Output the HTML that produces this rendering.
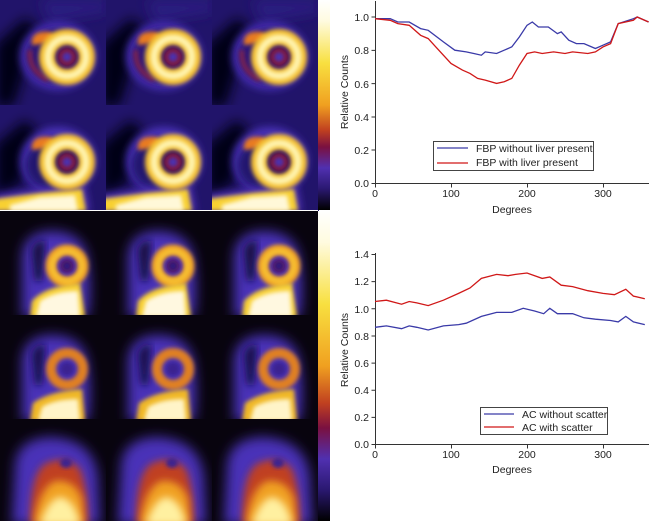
<!DOCTYPE html>
<html><head><meta charset="utf-8"><style>
html,body{margin:0;padding:0;background:#fff;width:650px;height:523px;overflow:hidden}
svg{position:absolute;left:0;top:0}
text{font-family:"Liberation Sans",sans-serif;font-size:10.5px;fill:#222}
</style></head><body>
<svg width="650" height="523" viewBox="0 0 650 523">
<defs>
<filter id="b4" x="-30%" y="-30%" width="160%" height="160%"><feGaussianBlur stdDeviation="4"/></filter>
<filter id="b2" x="-30%" y="-30%" width="160%" height="160%"><feGaussianBlur stdDeviation="2"/></filter>
<filter id="b6" x="-30%" y="-30%" width="160%" height="160%"><feGaussianBlur stdDeviation="6"/></filter>
<clipPath id="tc"><rect x="0" y="0" width="107" height="106"/></clipPath>
<linearGradient id="cb" x1="0" y1="0" x2="0" y2="1">
<stop offset="0" stop-color="#ffffff"/><stop offset="0.1" stop-color="#fffbe0"/>
<stop offset="0.3" stop-color="#f8e040"/><stop offset="0.5" stop-color="#f0a020"/>
<stop offset="0.62" stop-color="#c04020"/><stop offset="0.7" stop-color="#7a1040"/>
<stop offset="0.8" stop-color="#5030b0"/><stop offset="0.9" stop-color="#2a1870"/>
<stop offset="1" stop-color="#000000"/></linearGradient>
<symbol id="tA" viewBox="0 0 107 106" width="107" height="106"><g clip-path="url(#tc)">
<rect width="107" height="106" fill="#21146a"/>
<path d="M-5,45 L25,18 L38,28 L14,106 L-5,106Z" fill="#060414" filter="url(#b6)"/>
<path d="M40,0 L107,0 L107,12 L50,22Z" fill="#2a1a80" filter="url(#b6)"/>
<ellipse cx="58" cy="56" rx="38" ry="34" fill="#4a30b8" filter="url(#b4)"/>
<ellipse cx="58" cy="56" rx="32" ry="28" fill="#2a1878" filter="url(#b4)"/>
<path d="M32,45 Q30,30 50,32 L60,40 L40,44Z" fill="#e87a20" filter="url(#b2)"/>
<path d="M30,50 Q28,70 48,80" stroke="#7a2050" stroke-width="5" fill="none" filter="url(#b2)"/>
<circle cx="67" cy="57" r="20" fill="none" stroke="#f4c030" stroke-width="16" filter="url(#b2)"/>
<circle cx="67" cy="57" r="19" fill="none" stroke="#fff4b0" stroke-width="7" filter="url(#b2)"/>
<circle cx="67" cy="57" r="9" fill="#8a1830" filter="url(#b2)"/>
<circle cx="67" cy="57" r="5" fill="#4a30b0" filter="url(#b2)"/>
</g></symbol>
<symbol id="tB" viewBox="0 0 107 106" width="107" height="106"><g clip-path="url(#tc)">
<rect width="107" height="106" fill="#21146a"/>
<path d="M-5,40 L25,15 L38,28 L20,80 L-5,90Z" fill="#060414" filter="url(#b6)"/>
<ellipse cx="58" cy="56" rx="38" ry="34" fill="#4a30b8" filter="url(#b4)"/>
<ellipse cx="55" cy="60" rx="30" ry="26" fill="#24166e" filter="url(#b4)"/>
<path d="M32,45 Q30,30 50,32 L60,40 L40,44Z" fill="#e87a20" filter="url(#b2)"/>
<path d="M-5,90 L40,84 L85,80 L90,106 L-5,106Z" fill="#5030b8" filter="url(#b4)"/>
<path d="M-5,94 L40,88 L82,84 L86,106 L-5,106Z" fill="#f8d030" filter="url(#b2)"/>
<path d="M10,100 L40,92 L75,90 L78,106 L10,106Z" fill="#fff8d8" filter="url(#b2)"/>
<circle cx="67" cy="57" r="20" fill="none" stroke="#f4c030" stroke-width="16" filter="url(#b2)"/>
<circle cx="67" cy="57" r="19" fill="none" stroke="#fff4b0" stroke-width="7" filter="url(#b2)"/>
<circle cx="67" cy="57" r="9" fill="#8a1830" filter="url(#b2)"/>
<circle cx="67" cy="57" r="5" fill="#4a30b0" filter="url(#b2)"/>
</g></symbol>
<symbol id="tC" viewBox="0 0 107 106" width="107" height="106"><g clip-path="url(#tc)">
<rect width="107" height="106" fill="#08040e"/>
<path d="M22,48 Q22,22 50,20 Q85,20 88,50 Q92,80 88,106 L22,106Z" fill="#4a30b8" filter="url(#b6)"/>
<path d="M32,40 Q35,28 45,30 L42,70 L35,70Z" fill="#150c40" filter="url(#b4)"/>
<circle cx="67" cy="55" r="16" fill="none" stroke="#f0a020" stroke-width="11" filter="url(#b2)"/>
<circle cx="67" cy="55" r="15" fill="none" stroke="#f8c838" stroke-width="4" filter="url(#b2)"/>
<circle cx="67" cy="55" r="7" fill="#5a1a60" filter="url(#b2)"/>
<circle cx="67" cy="55" r="4" fill="#2a1880" filter="url(#b2)"/>
<path d="M30,106 L32,90 Q45,75 80,72 L85,106Z" fill="#f8d030" filter="url(#b2)"/>
<path d="M36,106 L40,90 Q55,80 78,80 L80,106Z" fill="#fff8e0" filter="url(#b2)"/>
</g></symbol>
<symbol id="tD" viewBox="0 0 107 106" width="107" height="106"><g clip-path="url(#tc)">
<rect width="107" height="106" fill="#08040e"/>
<path d="M22,48 Q22,22 50,20 Q85,20 88,50 Q92,80 88,106 L22,106Z" fill="#4a30b8" filter="url(#b6)"/>
<path d="M32,40 Q35,28 45,30 L42,70 L35,70Z" fill="#180e48" filter="url(#b4)"/>
<circle cx="67" cy="54" r="16" fill="none" stroke="#e08020" stroke-width="10" filter="url(#b2)"/>
<circle cx="67" cy="54" r="7" fill="#3a2090" filter="url(#b2)"/>
<path d="M30,106 L33,88 Q50,76 82,74 L85,106Z" fill="#f0b828" filter="url(#b2)"/>
<path d="M38,106 L42,92 Q55,84 78,84 L80,106Z" fill="#fff4c8" filter="url(#b2)"/>
</g></symbol>
<symbol id="tE" viewBox="0 0 107 106" width="107" height="106"><g clip-path="url(#tc)">
<rect width="107" height="106" fill="#08040e"/>
<path d="M15,50 Q15,20 50,18 Q95,20 98,60 L100,106 L12,106Z" fill="#4a30b8" filter="url(#b6)"/>
<path d="M30,106 Q30,55 45,45 Q65,35 80,50 Q88,70 88,106Z" fill="#c04020" filter="url(#b4)"/>
<path d="M34,106 Q38,70 55,62 Q75,60 82,80 L84,106Z" fill="#f0a020" filter="url(#b4)"/>
<path d="M40,106 Q48,80 60,78 Q75,80 80,106Z" fill="#fff0a0" filter="url(#b4)"/>
<ellipse cx="66" cy="44" rx="6" ry="5" fill="#3a2090" filter="url(#b2)"/>
</g></symbol>
</defs>
<rect x="318" y="0" width="12" height="210" fill="url(#cb)"/>
<rect x="318" y="211" width="12" height="310" fill="url(#cb)"/>
<use href="#tA" x="0" y="0"/><use href="#tA" x="106" y="0"/><use href="#tA" x="212" y="0"/>
<use href="#tB" x="0" y="105"/><use href="#tB" x="106" y="105"/><use href="#tB" x="212" y="105"/>
<rect x="0" y="210" width="318" height="1" fill="#fff"/>
<use href="#tC" x="0" y="211"/><use href="#tC" x="106" y="211"/><use href="#tC" x="212" y="211"/>
<use href="#tD" x="0" y="315"/><use href="#tD" x="106" y="315"/><use href="#tD" x="212" y="315"/>
<use href="#tE" x="0" y="419"/><use href="#tE" x="106" y="419"/><use href="#tE" x="212" y="419"/>
<rect x="0" y="521" width="330" height="2" fill="#fff"/>
<rect x="318" y="0" width="12" height="210" fill="url(#cb)"/>
<rect x="318" y="211" width="12" height="310" fill="url(#cb)"/>

<!-- top chart -->
<g stroke="#333" stroke-width="1" fill="none">
<path d="M375.5,1 V183.5 H649"/>
<path d="M375.5,183.5v4 M451.5,183.5v4 M527.5,183.5v4 M603.5,183.5v4"/>
<path d="M375.5,183.5h-4 M375.5,150h-4 M375.5,117h-4 M375.5,83.6h-4 M375.5,50.4h-4 M375.5,17h-4"/>
</g>
<g text-anchor="end">
<text x="369" y="187">0.0</text><text x="369" y="154">0.2</text><text x="369" y="121">0.4</text>
<text x="369" y="88">0.6</text><text x="369" y="54">0.8</text><text x="369" y="21">1.0</text></g>
<g text-anchor="middle">
<text x="375" y="197">0</text><text x="451" y="197">100</text><text x="527" y="197">200</text><text x="603" y="197">300</text>
<text x="512" y="213">Degrees</text></g>
<text transform="translate(348,92) rotate(-90)" text-anchor="middle">Relative Counts</text>
<polyline fill="none" stroke="#3a3aa8" stroke-width="1.3" points="375,18.7 390.2,18.7 397.8,22 409.2,22 420.6,28.6 428.2,30.3 443.4,41.9 454.8,50.2 466.2,51.9 473.8,53.5 481.4,55.2 485.2,51.9 496.6,53.5 504.2,50.2 511.8,46.9 519.4,36.9 527,25.3 532.3,22 538.4,27 548.3,27 557.4,33.6 561.2,31.9 568.8,40.2 576.4,43.6 584,43.6 595.4,48.5 603,45.2 610.6,41.9 618.2,23.6 633.4,18.7 637.2,17 648.6,22"/>
<polyline fill="none" stroke="#d01818" stroke-width="1.3" points="375,18.7 390.2,20.3 397.8,23.6 409.2,25.3 420.6,35.3 428.2,38.6 435.8,46.9 451,63.5 462.4,70.1 470,73.4 477.6,78.4 485.2,80.1 496.6,83.4 504.2,81.7 511.8,78.4 519.4,65.1 527,53.5 534.6,51.9 542.2,53.5 553.6,51.9 565,53.5 572.6,51.9 587.8,53.5 595.4,51.9 603,46.9 610.6,43.6 618.2,23.6 633.4,20.3 637.2,17 648.6,22"/>
<rect x="433.5" y="141.5" width="160" height="29" fill="#fff" stroke="#444"/>
<line x1="437" y1="148" x2="468" y2="148" stroke="#3a3aa8" stroke-width="1.3"/>
<line x1="437" y1="163" x2="468" y2="163" stroke="#d01818" stroke-width="1.3"/>
<text x="476" y="152">FBP without liver present</text>
<text x="476" y="166">FBP with liver present</text>

<!-- bottom chart -->
<g stroke="#333" stroke-width="1" fill="none">
<path d="M375.5,253 V444.5 H649"/>
<path d="M375.5,444.5v4 M451.5,444.5v4 M527.5,444.5v4 M603.5,444.5v4"/>
<path d="M375.5,444.5h-4 M375.5,417.4h-4 M375.5,390.3h-4 M375.5,363.1h-4 M375.5,336h-4 M375.5,308.8h-4 M375.5,281.6h-4 M375.5,254.5h-4"/>
</g>
<g text-anchor="end">
<text x="369" y="448">0.0</text><text x="369" y="421">0.2</text><text x="369" y="394">0.4</text>
<text x="369" y="367">0.6</text><text x="369" y="340">0.8</text><text x="369" y="313">1.0</text>
<text x="369" y="285">1.2</text><text x="369" y="258">1.4</text></g>
<g text-anchor="middle">
<text x="375" y="458">0</text><text x="451" y="458">100</text><text x="527" y="458">200</text><text x="603" y="458">300</text>
<text x="512" y="473">Degrees</text></g>
<text transform="translate(348,350) rotate(-90)" text-anchor="middle">Relative Counts</text>
<polyline fill="none" stroke="#3a3aa8" stroke-width="1.3" points="375,327.3 386.4,325.9 401.6,328.7 409.2,325.9 416.8,327.3 428.2,330 443.4,325.9 458.6,324.6 466.2,323.2 481.4,316.4 496.6,312.4 511.8,312.4 523.2,308.3 534.6,311 543.7,313.7 549.8,308.3 557.4,313.7 572.6,313.7 584,317.8 595.4,319.2 610.6,320.5 618.2,321.9 625.8,316.4 633.4,321.9 644.8,324.6"/>
<polyline fill="none" stroke="#d01818" stroke-width="1.3" points="375,301.5 386.4,300.2 401.6,304.2 409.2,301.5 416.8,302.9 428.2,305.6 443.4,300.2 458.6,293.4 470,288 481.4,278.4 496.6,274.4 508,275.7 515.6,274.4 527,273 542.2,278.4 549.8,277 561.2,285.2 572.6,286.6 587.8,290.7 603,293.4 614.4,294.7 625.8,289.3 633.4,296.1 644.8,298.8"/>
<rect x="480.5" y="407.5" width="127" height="27" fill="#fff" stroke="#444"/>
<line x1="484" y1="414" x2="514" y2="414" stroke="#3a3aa8" stroke-width="1.3"/>
<line x1="484" y1="427" x2="514" y2="427" stroke="#d01818" stroke-width="1.3"/>
<text x="522" y="418">AC without scatter</text>
<text x="522" y="431">AC with scatter</text>
</svg>
</body></html>
